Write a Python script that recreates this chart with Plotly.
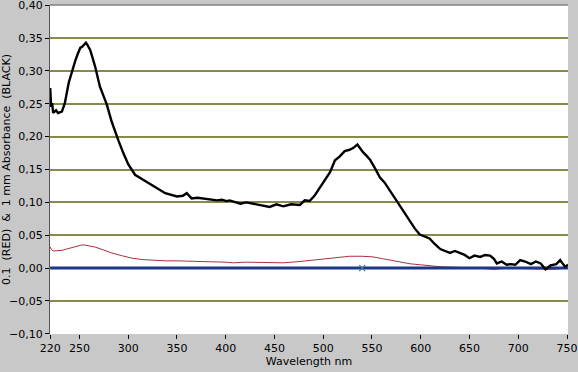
import plotly.graph_objects as go

# Black curve: 1 mm absorbance
wl_black = [220, 221, 222, 223, 226, 228, 232, 235, 239, 242, 245.6, 248, 250.8, 253, 256.6, 258, 261, 263, 266, 271,
            275, 278, 283, 287, 290, 295, 300, 307, 316, 326, 338, 350, 356, 360, 365, 371, 377, 384, 391, 396,
            401, 404, 410, 415, 421, 428, 436, 445, 452, 459, 467, 476, 481, 486, 491, 497, 502, 507, 512, 517,
            522, 527, 531, 535, 538, 541, 545, 548, 553, 558, 563, 567, 571, 575, 579, 583, 586, 589, 594, 599,
            604, 609, 614, 620, 625, 630, 635, 639, 645, 650, 655, 661, 666, 671, 675, 678, 683, 688, 692, 697,
            702, 707, 713, 718, 723, 728, 733, 739, 743, 746, 748, 751]
abs_black = [0.274, 0.245, 0.251, 0.236, 0.240, 0.236, 0.238, 0.251, 0.282, 0.298, 0.315, 0.325, 0.335, 0.337, 0.343, 0.340, 0.332, 0.322, 0.307, 0.276,
             0.262, 0.249, 0.223, 0.205, 0.194, 0.175, 0.158, 0.142, 0.134, 0.125, 0.114, 0.109, 0.110, 0.114, 0.106, 0.107, 0.106, 0.104, 0.103, 0.104,
             0.102, 0.103, 0.100, 0.098, 0.100, 0.098, 0.096, 0.093, 0.097, 0.094, 0.097, 0.096, 0.103, 0.102, 0.110, 0.124, 0.135, 0.146, 0.164, 0.170,
             0.178, 0.180, 0.183, 0.188, 0.182, 0.176, 0.170, 0.165, 0.152, 0.138, 0.130, 0.121, 0.112, 0.102, 0.094, 0.084, 0.077, 0.070, 0.060, 0.051,
             0.048, 0.045, 0.037, 0.029, 0.026, 0.023, 0.026, 0.024, 0.020, 0.015, 0.019, 0.017, 0.020, 0.019, 0.014, 0.007, 0.010, 0.005, 0.006, 0.005,
             0.012, 0.010, 0.006, 0.010, 0.007, -0.002, 0.004, 0.006, 0.012, 0.006, 0.002, 0.005]

# Red curve: 0.1 mm absorbance
wl_red = [220, 221, 223, 228, 232, 237, 242, 248, 252, 256, 260, 266, 274, 283, 293, 304, 314, 324, 338, 351,
          366, 374, 386, 400, 408, 420, 440, 459, 476, 493, 510, 527, 540, 551, 562, 572, 580, 589, 600, 610,
          620, 630, 640, 660, 675, 690, 710, 735, 751]
abs_red = [0.032, 0.029, 0.026, 0.026, 0.027, 0.029, 0.031, 0.034, 0.035, 0.035, 0.034, 0.032, 0.028, 0.023, 0.019, 0.015, 0.013, 0.012, 0.011, 0.011,
           0.010, 0.010, 0.0095, 0.009, 0.008, 0.009, 0.009, 0.008, 0.010, 0.013, 0.016, 0.018, 0.018, 0.017, 0.014, 0.011, 0.009, 0.0065, 0.005, 0.003,
           0.002, 0.0015, 0.001, 0.0, -0.002, 0.0, -0.001, -0.002, 0.0]

# Baseline
wl_base = [220, 751]
abs_base = [0.0, 0.0]

# Cursor marker
wl_cursor = [540]
abs_cursor = [0.0]

x_ticks = [220, 250, 300, 350, 400, 450, 500, 550, 600, 650, 700, 750]
y_ticks = [-0.10, -0.05, 0.00, 0.05, 0.10, 0.15, 0.20, 0.25, 0.30, 0.35, 0.40]

fig = go.Figure()
fig.add_trace(go.Scatter(x=wl_red, y=abs_red, mode="lines", line=dict(color="#a8323c", width=1), hoverinfo="skip"))
fig.add_trace(go.Scatter(x=wl_base, y=abs_base, mode="lines", line=dict(color="#1c3785", width=3), hoverinfo="skip"))
fig.add_trace(go.Scatter(x=wl_black, y=abs_black, mode="lines", line=dict(color="#000000", width=2.4), hoverinfo="skip"))
fig.add_trace(go.Scatter(x=wl_cursor, y=abs_cursor, mode="markers",
                         marker=dict(symbol="x-thin", size=6, line=dict(color="#3a7a8a", width=1.2)), hoverinfo="skip"))

fig.update_layout(
    width=578, height=372,
    margin=dict(l=50, r=10, t=5, b=38),
    paper_bgcolor="#c8c8c8",
    plot_bgcolor="#ffffff",
    showlegend=False,
    separators=",.",
    font=dict(family="DejaVu Sans", size=11, color="#000000"),
)
fig.update_xaxes(
    range=[219.8, 751], tickvals=x_ticks, ticks="outside", ticklen=4, tickcolor="#000000",
    showgrid=False, zeroline=False, showline=False, automargin=False,
    ticklabeloverflow="allow",
    title=dict(text="Wavelength nm", font=dict(size=11), standoff=0),
    tickfont=dict(size=11),
)
fig.update_yaxes(
    range=[-0.1003, 0.4003], tickvals=y_ticks, tickformat=".2f", ticks="outside", ticklen=4, tickcolor="#000000",
    showgrid=True, gridcolor="#8a8a48", gridwidth=1.5, zeroline=False,
    showline=True, linecolor="#555555", linewidth=1, automargin=False,
    ticklabeloverflow="allow",
    title=dict(text="0.1  (RED)  &  1 mm Absorbance  (BLACK)", font=dict(size=11), standoff=0),
    tickfont=dict(size=11),
)
fig.add_shape(type="line", xref="paper", yref="paper", x0=0, x1=1, y0=1, y1=1,
              line=dict(color="#808080", width=1.5))

fig.write_html("out.html", config={"displayModeBar": False},
               post_script="document.body.style.margin='0';document.body.style.padding='0';document.body.style.background='#c8c8c8';")
